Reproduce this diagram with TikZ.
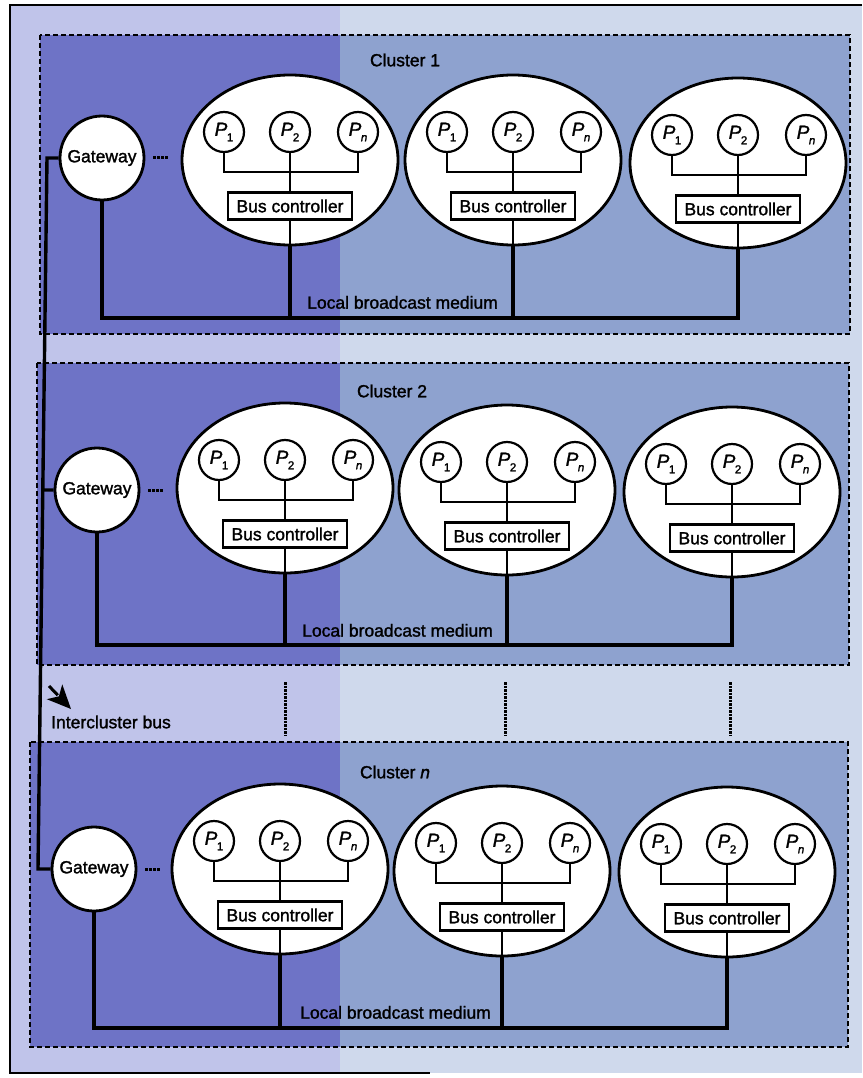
\documentclass[tikz,border=0pt]{standalone}
\usepackage{fontspec}
\setmainfont{Liberation Sans}[FakeBold=1.5]
\usetikzlibrary{shapes.geometric,calc,arrows.meta}
\definecolor{bgLout}{HTML}{C0C4EA}
\definecolor{bgRout}{HTML}{CFD9EC}
\definecolor{bgLin}{HTML}{6E73C6}
\definecolor{bgRin}{HTML}{8EA2CF}
\newcommand\Plab[1]{{\itshape P}\kern-0.5pt\raisebox{-5.5pt}{\fontsize{11.5}{11.5}\selectfont #1}}
\newcommand\procunit[3]{%
  \node[unitell] (#1) at (#2,#3) {};
  \node[pnode] (#1a) at ($(#1)+(-66,-28)$) {\Plab{1}};
  \node[pnode] (#1b) at ($(#1)+(0,-28)$) {\Plab{2}};
  \node[pnode] (#1c) at ($(#1)+(68,-28)$) {\Plab{\itshape n}};
  \coordinate (#1j) at ($(#1)+(0,12)$);
  \node[bcbox] (#1bc) at ($(#1)+(0,46)$) {Bus controller};
  \draw[thinline] (#1a.south) |- (#1j) -| (#1c.south);
  \draw[thinline] (#1b.south) -- (#1bc.north);
  \draw[thinline] (#1bc.south) -- (#1.south);
}
\tikzset{
  txt/.style={font=\fontsize{17.5}{18}\selectfont, inner sep=1pt},
  unitell/.style={ellipse, draw, line width=2.8pt, fill=white, minimum width=216pt, minimum height=170pt, inner sep=0pt},
  pnode/.style={circle, draw, line width=2.2pt, fill=white, minimum size=40pt, inner sep=0pt, font=\fontsize{19}{19}\selectfont},
  bcbox/.style={draw, line width=2.2pt, fill=white, minimum width=124pt, minimum height=27pt, inner sep=2pt, font=\fontsize{17.5}{18}\selectfont},
  gateway/.style={circle, draw, line width=2.8pt, fill=white, minimum size=84pt, inner sep=0pt, font=\fontsize{17.5}{18}\selectfont},
  thinline/.style={line width=1.4pt},
  bus/.style={line width=3.4pt},
  clbox/.style={draw, line width=1.5pt, dash pattern=on 5pt off 3pt},
  dotsep/.style={line width=3pt, dash pattern=on 2.5pt off 1.5pt},
  vsep/.style={line width=3pt, dash pattern=on 2.5pt off 1pt}
}
\begin{document}
\begin{tikzpicture}[x=1pt,y=-1pt]
\useasboundingbox (0,0) rectangle (862,1078);
% backgrounds
\fill[white] (0,0) rectangle (862,1078);
\fill[bgLout] (10,5) rectangle (340,1073);
\fill[bgRout] (340,5) rectangle (862,1073);
\foreach \ya/\yb/\xa/\xb in {35/334/40/850, 363/665/37/849, 742/1047/30/848}{
  \fill[bgLin] (\xa,\ya) rectangle (340,\yb);
  \fill[bgRin] (340,\ya) rectangle (\xb,\yb);
  \draw[clbox] (\xa,\ya) rectangle (\xb,\yb);
}
% outer frame
\draw[line width=2pt] (862,5) -- (10,5) -- (10,1073) -- (430,1073);

% ---------- Cluster 1
\node[txt] (cl1) at (405,60) {Cluster 1};
\procunit{ea}{290}{160}
\procunit{eb}{513}{160}
\procunit{ec}{738}{163}
\node[gateway] (gwa) at (102,158) {Gateway};
\coordinate (busa) at (0,318);
\draw[bus] (gwa.south) |- (ec.south |- busa) -- (ec.south);
\draw[bus] (ea.south) -- (ea.south |- busa);
\draw[bus] (eb.south) -- (eb.south |- busa);
\draw[dotsep] ($(gwa.east)+(8,0)$) coordinate (da1) -- ++(15,0) coordinate (da2);
\node[txt, anchor=south west] (lba) at (306,310) {Local broadcast medium};

% ---------- Cluster 2
\node[txt] (cl2) at (392,391) {Cluster 2};
\procunit{fa}{285}{488}
\procunit{fb}{507}{490}
\procunit{fc}{732}{492}
\node[gateway] (gwb) at (97,490) {Gateway};
\coordinate (busb) at (0,645);
\draw[bus] (gwb.south) |- (fc.south |- busb) -- (fc.south);
\draw[bus] (fa.south) -- (fa.south |- busb);
\draw[bus] (fb.south) -- (fb.south |- busb);
\draw[dotsep] ($(gwb.east)+(8,0)$) coordinate (db1) -- ++(15,0) coordinate (db2);
\node[txt, anchor=south west] (lbb) at (301,638) {Local broadcast medium};

% ---------- Cluster n
\node[txt] (cln) at (395,772) {Cluster \textit{n}};
\procunit{ga}{280}{869}
\procunit{gb}{502}{871}
\procunit{gc}{727}{872}
\node[gateway] (gwc) at (94,869) {Gateway};
\coordinate (busc) at (0,1028);
\draw[bus] (gwc.south) |- (gc.south |- busc) -- (gc.south);
\draw[bus] (ga.south) -- (ga.south |- busc);
\draw[bus] (gb.south) -- (gb.south |- busc);
\draw[dotsep] ($(gwc.east)+(8,0)$) coordinate (dc1) -- ++(15,0) coordinate (dc2);
\node[txt, anchor=south west] (lbc) at (299,1020) {Local broadcast medium};

% ---------- Intercluster bus
\coordinate (iba) at (47,158);
\coordinate (ibc) at (38,869);
\coordinate (ibb) at ($(iba)!0.467!(ibc)$);
\draw[bus] (gwa.west) -- (iba) -- (ibc) -- (gwc.west);
\draw[bus] (gwb.west) -- (ibb);
\node[txt, anchor=west] (icb) at (50,722) {Intercluster bus};
% pointer arrow: short tail plus large filled head
\coordinate (arA) at (49,686);
\coordinate (arB) at (71,709);
\draw[line width=3pt] (arA) -- ($(arA)!0.4!(arB)$);
\fill ($(arA)!0.25!(arB)!0.45!90:(arB)$) -- (arB) -- ($(arA)!0.25!(arB)!0.45!-90:(arB)$) -- ($(arA)!0.45!(arB)$) -- cycle;

% separators between clusters
\foreach \sx/\nm in {285/sa, 505/sb, 730/sc}{
  \coordinate (\nm1) at (\sx,682);
  \coordinate (\nm2) at (\sx,735);
  \draw[vsep] (\nm1) -- (\nm2);
}
\end{tikzpicture}
\end{document}
